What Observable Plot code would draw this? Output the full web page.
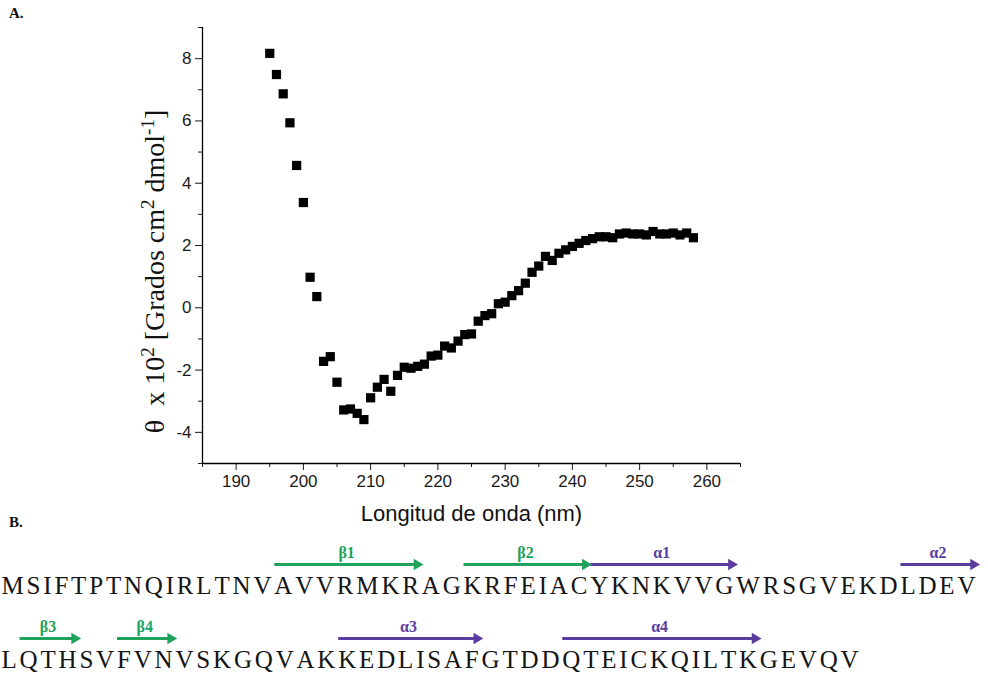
<!DOCTYPE html>
<html>
<head>
<meta charset="utf-8">
<script src="https://cdn.jsdelivr.net/npm/d3@7"></script>
<script src="https://cdn.jsdelivr.net/npm/@observablehq/plot@0.6"></script>
<style>
  body { margin: 0; background: #fff; }
  #wrap { position: relative; width: 988px; height: 677px; overflow: hidden; background: #fff; }
  .panel { position: absolute; left: 0; }
  .tag { position: absolute; z-index: 3; font-family: "Liberation Serif", "Times New Roman", serif; font-weight: bold; font-size: 15px; color: #111; }
</style>
</head>
<body>
<div id="wrap">
  <div class="tag" style="left:9px;top:5px">A.</div>
  <div class="tag" style="left:9px;top:514px">B.</div>
</div>
<script>
// ---------- Panel A data: CD spectrum ----------
const wavelength = [195,196,197,198,199,200,201,202,203,204,205,206,207,208,209,210,
  211,212,213,214,215,216,217,218,219,220,221,222,223,224,225,226,227,228,229,230,
  231,232,233,234,235,236,237,238,239,240,241,242,243,244,245,246,247,248,249,250,
  251,252,253,254,255,256,257,258];
const theta = [8.17,7.49,6.87,5.94,4.57,3.38,0.98,0.36,-1.72,-1.57,-2.39,-3.28,-3.25,-3.39,-3.59,-2.89,
  -2.55,-2.30,-2.68,-2.17,-1.91,-1.94,-1.88,-1.81,-1.55,-1.52,-1.23,-1.29,-1.07,-0.86,-0.84,-0.43,-0.25,-0.19,0.13,0.18,
  0.39,0.55,0.79,1.14,1.34,1.65,1.52,1.75,1.86,1.97,2.07,2.16,2.22,2.28,2.28,2.25,2.37,2.40,2.37,2.37,
  2.34,2.45,2.37,2.37,2.40,2.34,2.40,2.25];
const xDomain = [185, 265];
const yDomain = [-5, 9];
const xMajorTicks = [190, 200, 210, 220, 230, 240, 250, 260];
const xMinorTicks = [185, 195, 205, 215, 225, 235, 245, 255, 265];
const yMajorTicks = [-4, -2, 0, 2, 4, 6, 8];
const yMinorTicks = [-5, -3, -1, 1, 3, 5, 7, 9];
const xLabel = "Longitud de onda (nm)";
// y label pieces: [text, isSuperscript]
const yLabelParts = [["θ  x 10", false], ["2", true], [" [Grados cm", false], ["2", true], [" dmol", false], ["-1", true], ["]", false]];
const yLabel = yLabelParts.map(p => p[0]).join("");

// ---------- Panel B data: sequence and secondary structure ----------
const sequenceRows = [
  "MSIFTPTNQIRLTNVAVVRMKRAGKRFEIACYKNKVVGWRSGVEKDLDEV",
  "LQTHSVFVNVSKGQVAKKEDLISAFGTDDQTEICKQILTKGEVQV"
];
const structLabels = ["β1", "β2", "α1", "α2", "β3", "β4", "α3", "α4"];
const structStart  = [16, 25, 32, 47, 52, 57, 68, 80];
const structEnd    = [22, 31, 38, 50, 54, 59, 75, 90];
const structType   = ["strand", "strand", "helix", "helix", "strand", "strand", "helix", "helix"];
const typeColors = {strand: "#1fa35c", helix: "#5b3d9f"};

// ---------- build tables ----------
const sans = "'Liberation Sans', Arial, sans-serif";
const serif = "'Liberation Serif', 'Times New Roman', serif";
const fmt = d => String(d);
const cd = wavelength.map((w, i) => ({nm: w, v: theta[i]}));

// proportional typesetting of the sequence (glyph advance + tracking)
const seqFontSize = 25;
const rowSpan = 974;
const ctx = document.createElement("canvas").getContext("2d");
ctx.font = `${seqFontSize}px "Liberation Serif"`;
const glyphW = c => ctx.measureText(c).width;
const tracking = (rowSpan - d3.sum([...sequenceRows[0]], glyphW)) / (sequenceRows[0].length - 1);
const residues = [];
sequenceRows.forEach((s, r) => {
  let adv = 1;
  [...s].forEach(aa => {
    const w = glyphW(aa);
    residues.push({aa, row: r, left: adv, right: adv + w, center: adv + w / 2});
    adv += w + tracking;
  });
});
const structures = structLabels.map((label, i) => {
  const a = residues[structStart[i] - 1], b = residues[structEnd[i] - 1];
  return {label, type: structType[i], row: a.row, x1: a.left, x2: b.right, mid: (a.left + b.right) / 2};
});

const plotA = Plot.plot({
  width: 988, height: 530,
  marginLeft: 202, marginRight: 248, marginTop: 27, marginBottom: 67,
  style: {fontFamily: sans, fontSize: "17px", color: "#1a1a1a", background: "none"},
  x: {domain: xDomain},
  y: {domain: yDomain},
  marks: [
    Plot.axisX(xMajorTicks, {tickSize: 7, tickPadding: 4, fontSize: 17, tickFormat: fmt, label: null}),
    Plot.axisX(xMinorTicks, {tickSize: 4, tickFormat: () => "", label: null}),
    Plot.axisY(yMajorTicks, {tickSize: 7, tickPadding: 4, fontSize: 17, tickFormat: fmt, label: null}),
    Plot.axisY(yMinorTicks, {tickSize: 4, tickFormat: () => "", label: null}),
    Plot.ruleX([xDomain[0]], {stroke: "#000", strokeWidth: 1.3}),
    Plot.ruleY([yDomain[0]], {stroke: "#000", strokeWidth: 1.3}),
    Plot.dot(cd, {x: "nm", y: "v", symbol: "square", r: 5.2, fill: "#000", stroke: "none"}),
    Plot.text([xLabel], {text: d => d, frameAnchor: "bottom", dy: 57, fontSize: 22, fontFamily: sans, fill: "#111"}),
    Plot.text([yLabel], {text: d => d, frameAnchor: "left", textAnchor: "middle", dx: -47, dy: 26, rotate: -90, fontSize: 28, fontFamily: serif, fill: "#111"})
  ]
});
plotA.classList.add("panel");
plotA.style.top = "0px";

// render the y label with true superscripts
d3.select(plotA).selectAll("text").filter(function () { return this.textContent === yLabel; }).each(function () {
  const t = d3.select(this);
  t.text(null);
  let raised = false;
  yLabelParts.forEach(([s, sup]) => {
    const ts = t.append("tspan").text(s);
    if (sup && !raised) { ts.attr("dy", "-10px").attr("font-size", "19px"); raised = true; }
    else if (!sup && raised) { ts.attr("dy", "10px"); raised = false; }
    else if (sup) ts.attr("font-size", "19px");
  });
});

const plotB = Plot.plot({
  width: 988, height: 147,
  marginLeft: 0, marginRight: 0, marginTop: 0, marginBottom: 0,
  style: {background: "none"},
  x: {domain: [0, 988], range: [0, 988], axis: null},
  y: {domain: [0, 1], range: [55, 129], axis: null},
  marks: [
    Plot.text(residues, {x: "center", y: "row", text: "aa", fontSize: seqFontSize, fontFamily: serif, fill: "#151515"}),
    Plot.link(structures, {
      x1: "x1", x2: "x2", y1: "row", y2: "row", dy: -21,
      stroke: d => typeColors[d.type], strokeWidth: 3
    }),
    Plot.dot(structures, {
      x: "x2", y: "row", dy: -21, dx: -2, symbol: "triangle", rotate: 90, r: 4.2,
      fill: d => typeColors[d.type], stroke: "none"
    }),
    Plot.text(structures, {
      x: "mid", y: "row", dy: -33,
      text: "label", fill: d => typeColors[d.type], fontSize: 16, fontWeight: "bold", fontFamily: serif
    })
  ]
});
plotB.classList.add("panel");
plotB.style.top = "530px";

const wrap = document.getElementById("wrap");
wrap.appendChild(plotA);
wrap.appendChild(plotB);
</script>
</body>
</html>
